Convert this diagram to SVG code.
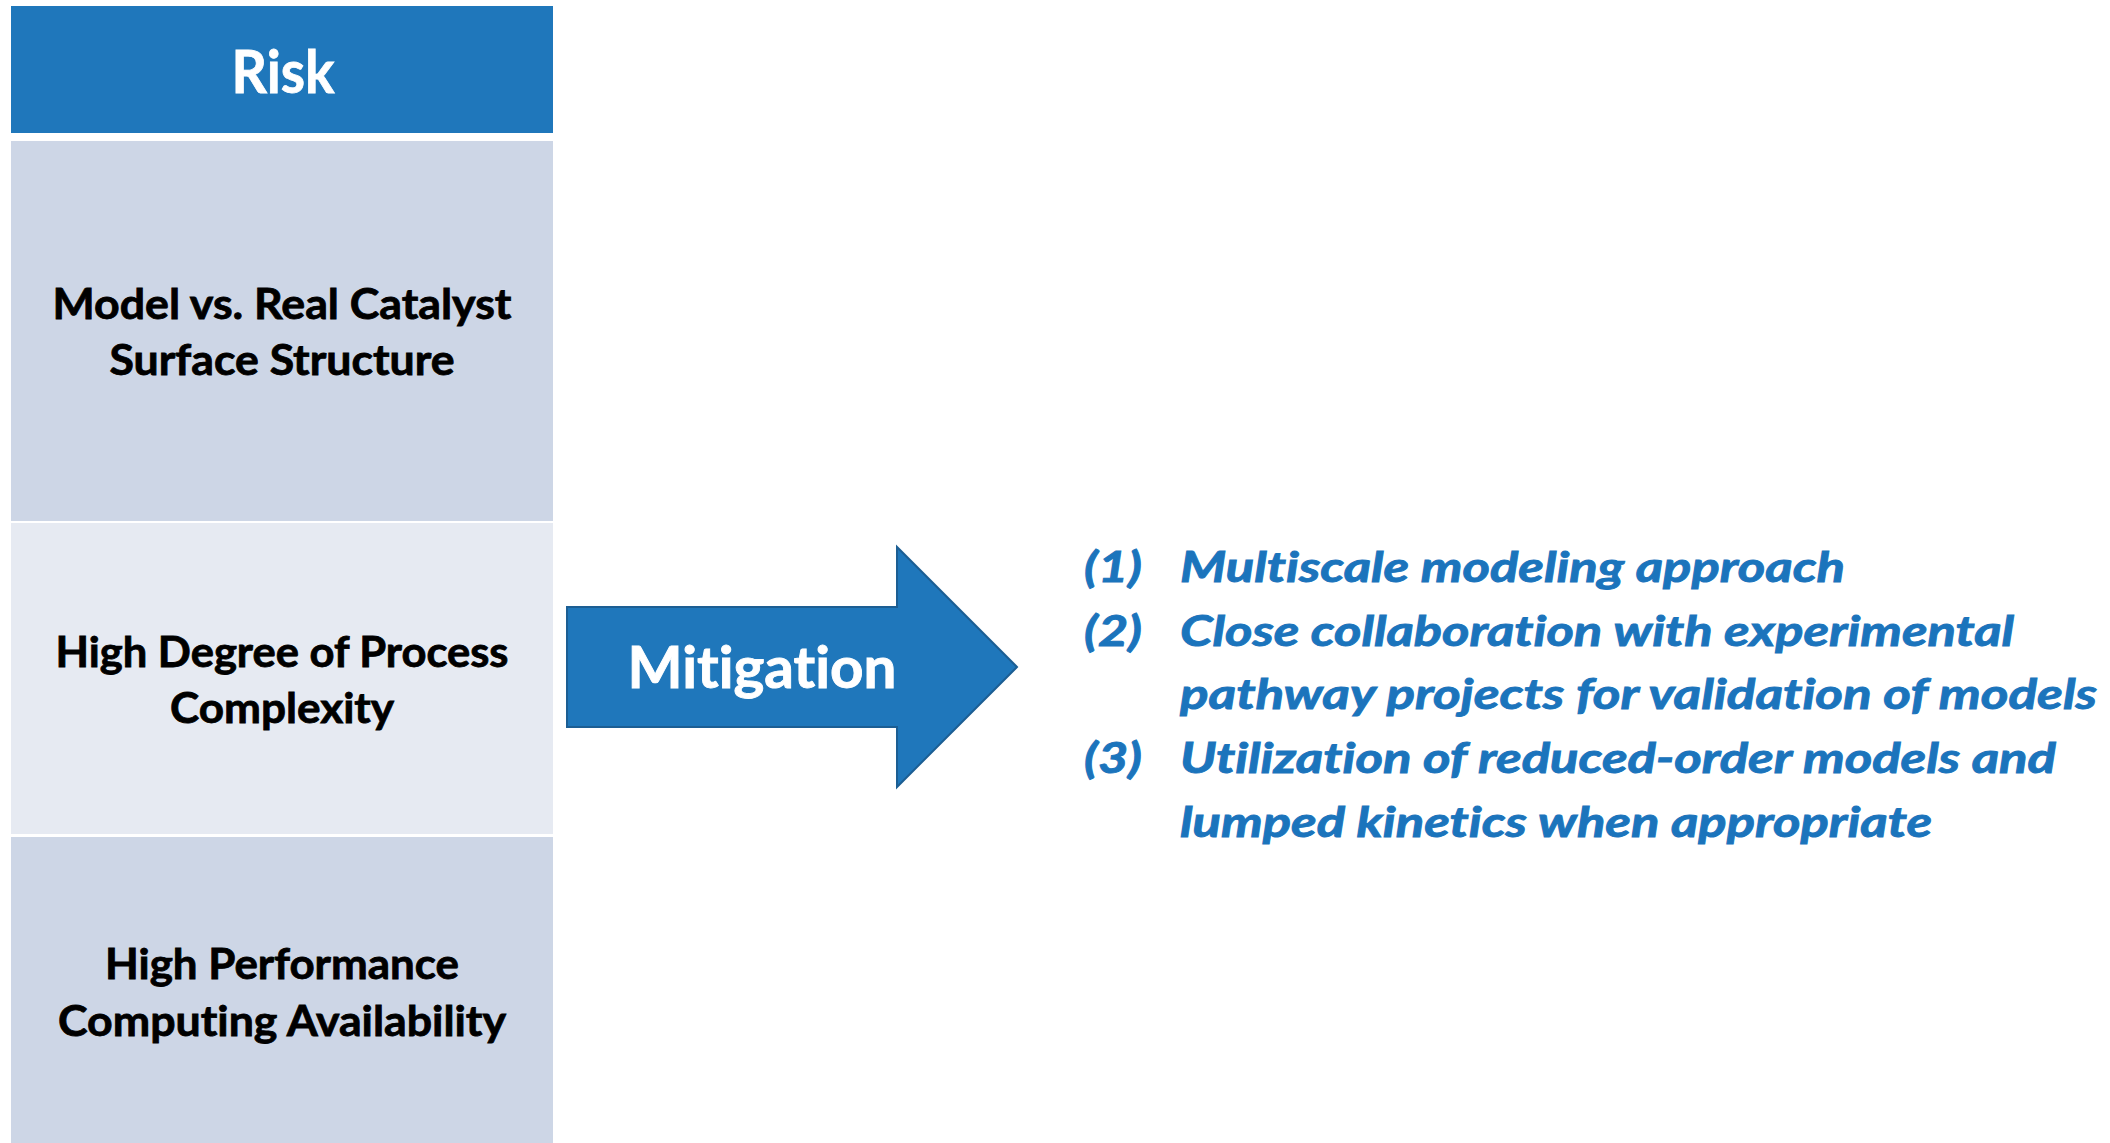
<svg xmlns="http://www.w3.org/2000/svg" width="2110" height="1143" viewBox="0 0 2110 1143">
  <style>
    text { font-variant-ligatures: none; font-feature-settings: "liga" 0, "clig" 0; }
    .hdr { fill: #1f77bb; }
    .rowA { fill: #cdd6e6; }
    .rowB { fill: #e6eaf2; }
    .risk { font-family: Lato, "Open Sans", "Liberation Sans", sans-serif; font-weight: bold; fill: #ffffff; stroke: #ffffff; stroke-width: 0.8; text-anchor: middle; }
    .cell { font-family: Lato, "Open Sans", "Liberation Sans", sans-serif; font-weight: bold; font-size: 42px; fill: #000000; stroke: #000000; stroke-width: 0.8; text-anchor: middle; }
    .mit { font-family: Lato, "Open Sans", "Liberation Sans", sans-serif; font-weight: bold; font-size: 58px; fill: #ffffff; stroke: #ffffff; stroke-width: 0.9; text-anchor: middle; }
    .item { font-family: Lato, "Open Sans", "Liberation Sans", sans-serif; font-weight: bold; font-style: italic; font-size: 42px; fill: #1b74bc; stroke: #1b74bc; stroke-width: 0.9; }
  </style>
  <rect width="2110" height="1143" fill="#ffffff"/>

  <g id="risk-header">
    <rect class="hdr" x="11" y="6" width="542" height="127"/>
    <text class="risk" x="283" y="93" font-size="60" textLength="103" lengthAdjust="spacingAndGlyphs">Risk</text>
  </g>

  <g id="risk-model-vs-real">
    <rect class="rowA" x="11" y="141" width="542" height="380"/>
    <text class="cell" x="282" y="319" textLength="459" lengthAdjust="spacingAndGlyphs">Model vs. Real Catalyst</text>
    <text class="cell" x="282" y="375" textLength="345" lengthAdjust="spacingAndGlyphs">Surface Structure</text>
  </g>

  <g id="risk-process-complexity">
    <rect class="rowB" x="11" y="523" width="542" height="311"/>
    <text class="cell" x="282" y="667" textLength="453" lengthAdjust="spacingAndGlyphs">High Degree of Process</text>
    <text class="cell" x="282" y="723" textLength="224" lengthAdjust="spacingAndGlyphs">Complexity</text>
  </g>

  <g id="risk-hpc">
    <rect class="rowA" x="11" y="837" width="542" height="306"/>
    <text class="cell" x="282" y="979" textLength="354" lengthAdjust="spacingAndGlyphs">High Performance</text>
    <text class="cell" x="282" y="1036" textLength="448" lengthAdjust="spacingAndGlyphs">Computing Availability</text>
  </g>

  <g id="connectors">
    <g id="mitigation-arrow">
      <path d="M567,607 L897,607 L897,547 L1017,667 L897,787 L897,727 L567,727 Z" fill="#1f77bb" stroke="#1c5e93" stroke-width="2" stroke-linejoin="miter"/>
      <text class="mit" x="762" y="688" textLength="269" lengthAdjust="spacingAndGlyphs">Mitigation</text>
    </g>
  </g>

  <g id="mitigation-list">
    <text class="item" x="1084" y="582" textLength="58" lengthAdjust="spacingAndGlyphs">(1)</text>
    <text class="item" x="1180" y="582" textLength="665" lengthAdjust="spacingAndGlyphs">Multiscale modeling approach</text>
    <text class="item" x="1084" y="646" textLength="58" lengthAdjust="spacingAndGlyphs">(2)</text>
    <text class="item" x="1180" y="646" textLength="834" lengthAdjust="spacingAndGlyphs">Close collaboration with experimental</text>
    <text class="item" x="1180" y="709" textLength="917" lengthAdjust="spacingAndGlyphs">pathway projects for validation of models</text>
    <text class="item" x="1084" y="773" textLength="58" lengthAdjust="spacingAndGlyphs">(3)</text>
    <text class="item" x="1180" y="773" textLength="876" lengthAdjust="spacingAndGlyphs">Utilization of reduced-order models and</text>
    <text class="item" x="1180" y="837" textLength="752" lengthAdjust="spacingAndGlyphs">lumped kinetics when appropriate</text>
  </g>
</svg>
